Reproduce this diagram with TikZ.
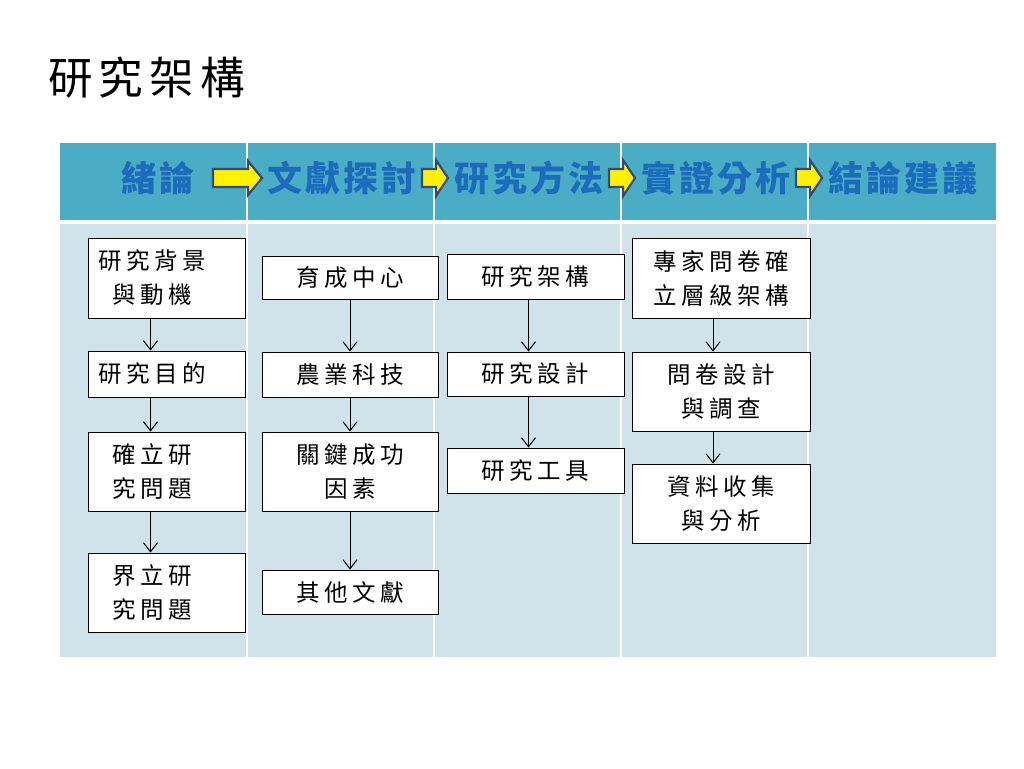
\documentclass[tikz,border=0pt]{standalone}
\usepackage{fontspec}
\usetikzlibrary{arrows.meta}
\newfontfamily\cjkbox[LetterSpace=19]{Noto Sans CJK TC}
\newfontfamily\cjkhdr[LetterSpace=9]{Noto Sans CJK TC}
\newfontfamily\cjktitle[LetterSpace=14]{Noto Sans CJK TC}
\definecolor{hdrteal}{RGB}{75,172,198}
\definecolor{bodyblue}{RGB}{208,227,234}
\definecolor{hdrtext}{RGB}{28,108,188}
\definecolor{arrline}{RGB}{50,75,110}
\newcommand{\padr}{\hspace*{28pt}}
\begin{document}
\begin{tikzpicture}[x=1pt,y=-1pt,
  stagebox/.style={draw=black,line width=0.9pt,fill=white,align=center,inner sep=0pt,
    font=\cjkbox\fontsize{23.5}{34}\selectfont},
  conn/.style={line width=1pt,-{Straight Barb[length=9pt,width=14pt,line width=1pt]}},
  hdr/.style={text=hdrtext,font=\cjkhdr\bfseries\fontsize{35}{38}\selectfont,inner sep=0pt},
  hdrarrow/.style={fill=yellow,draw=arrline,line width=2.2pt,line join=miter}]
\useasboundingbox (0,0) rectangle (1024,768);
\fill[white] (0,0) rectangle (1024,768);
% title
\node[anchor=west,inner sep=0pt,font=\cjktitle\fontsize{44.5}{48}\selectfont] (title) at (48,78) {研究架構};
% table
\fill[hdrteal] (60,143) rectangle (996,220);
\fill[bodyblue] (60,224) rectangle (996,657);
\foreach \cx in {247,434,621,808}{
  \draw[white,line width=2.5pt] (\cx,143) -- (\cx,657);
}
% header texts
\node[hdr] (h1) at (158,178) {緒論};
\node[hdr] (h2) at (342,178) {文獻探討};
\node[hdr] (h3) at (529,178) {研究方法};
\node[hdr] (h4) at (716,178) {實證分析};
\node[hdr] (h5) at (903,178) {結論建議};
% header arrows
\draw[hdrarrow] (213,169) -- (248,169) -- (248,161) -- (262,178) -- (248,195) -- (248,187) -- (213,187) -- cycle;
\foreach \cx in {434,621,808}{
  \draw[hdrarrow] (\cx-12,169) -- (\cx+2,169) -- (\cx+2,160) -- (\cx+14,178) -- (\cx+2,196) -- (\cx+2,187) -- (\cx-12,187) -- cycle;
}
% column 1
\node[stagebox,minimum width=157pt,minimum height=80pt] (b11) at (166.5,278) {研究背景\padr\\與動機\padr};
\node[stagebox,minimum width=157pt,minimum height=46pt] (b12) at (166.5,374) {研究目的\padr};
\node[stagebox,minimum width=157pt,minimum height=79pt] (b13) at (166.5,471.5) {確立研\padr\\究問題\padr};
\node[stagebox,minimum width=157pt,minimum height=79pt] (b14) at (166.5,592.5) {界立研\padr\\究問題\padr};
% column 2
\node[stagebox,minimum width=176pt,minimum height=43pt] (b21) at (350,277.5) {育成中心};
\node[stagebox,minimum width=176pt,minimum height=45pt] (b22) at (350,374.5) {農業科技};
\node[stagebox,minimum width=176pt,minimum height=79pt] (b23) at (350,471.5) {關鍵成功\\因素};
\node[stagebox,minimum width=176pt,minimum height=44pt] (b24) at (350,592) {其他文獻};
% column 3
\node[stagebox,minimum width=177pt,minimum height=45pt] (b31) at (535.5,276.5) {研究架構};
\node[stagebox,minimum width=177pt,minimum height=44pt] (b32) at (535.5,374) {研究設計};
\node[stagebox,minimum width=177pt,minimum height=45pt] (b33) at (535.5,470.5) {研究工具};
% column 4
\node[stagebox,minimum width=178pt,minimum height=80pt] (b41) at (721,278) {專家問卷確\\立層級架構};
\node[stagebox,minimum width=178pt,minimum height=79pt] (b42) at (721,391.5) {問卷設計\\與調查};
\node[stagebox,minimum width=178pt,minimum height=79pt] (b43) at (721,503.5) {資料收集\\與分析};
% connectors
\draw[conn] ([xshift=-16pt]b11.south) -- ([xshift=-16pt]b12.north);
\draw[conn] ([xshift=-16pt]b12.south) -- ([xshift=-16pt]b13.north);
\draw[conn] ([xshift=-16pt]b13.south) -- ([xshift=-16pt]b14.north);
\draw[conn] (b21.south) -- (b22.north);
\draw[conn] (b22.south) -- (b23.north);
\draw[conn] (b23.south) -- (b24.north);
\draw[conn] ([xshift=-7pt]b31.south) -- ([xshift=-7pt]b32.north);
\draw[conn] ([xshift=-7pt]b32.south) -- ([xshift=-7pt]b33.north);
\draw[conn] ([xshift=-8pt]b41.south) -- ([xshift=-8pt]b42.north);
\draw[conn] ([xshift=-8pt]b42.south) -- ([xshift=-8pt]b43.north);
\end{tikzpicture}
\end{document}
